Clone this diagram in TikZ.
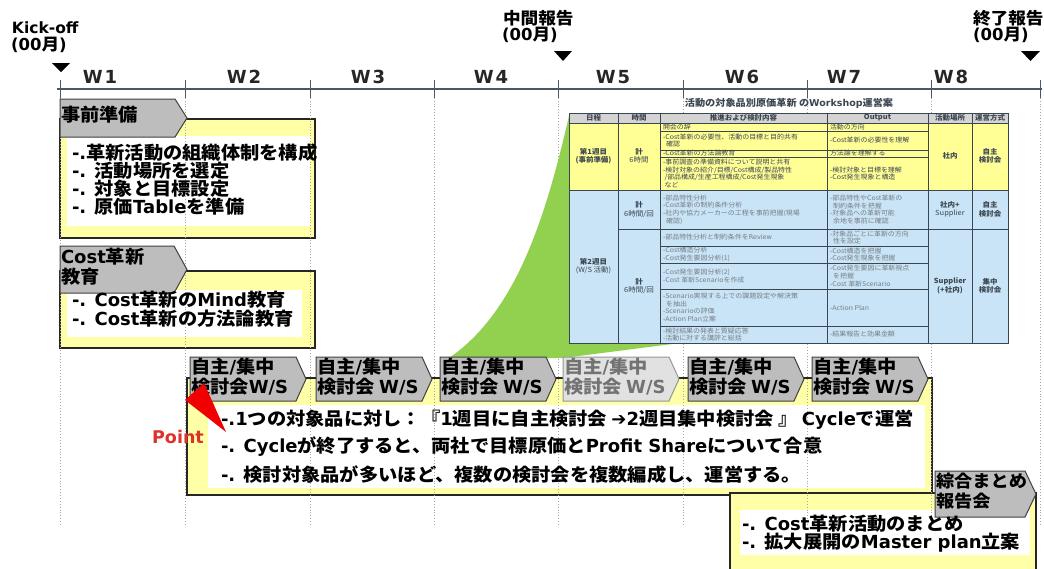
\documentclass[tikz,border=0pt]{standalone}
\usepackage{fontspec}
\setmainfont{Noto Sans CJK JP}[FakeStretch=1.07]
\newfontfamily\dv{DejaVu Sans}
\newcommand\dl[1]{{\dv #1}}
\usetikzlibrary{calc}
\definecolor{pgray}{HTML}{BDBDBD}
\definecolor{pline}{HTML}{404040}
\definecolor{ylw}{HTML}{FFFFA8}
\definecolor{boxline}{HTML}{262626}
\definecolor{vgray}{HTML}{A8A8A8}
\definecolor{tlcol}{HTML}{4A5866}
\definecolor{grn}{HTML}{92D050}
\definecolor{thead}{HTML}{D4D4D4}
\definecolor{tyel}{HTML}{FFFF96}
\definecolor{tblu}{HTML}{C8E4F6}
\definecolor{tgrid}{HTML}{3A4650}
\definecolor{tcol}{HTML}{3C4650}
\definecolor{ptred}{HTML}{F00000}
\definecolor{ptxt}{HTML}{E0302A}
\begin{document}
\begin{tikzpicture}[x=1pt,y=-1pt,every node/.style={inner sep=0pt,outer sep=0pt}]
\tikzset{
 pentst/.style={fill=pgray,draw=pline,line width=1pt,line join=miter},
 pentfade/.style={fill=pgray!45,draw=pline!55,line width=1pt,line join=miter},
 ybox/.style={fill=ylw,draw=boxline,line width=1.3pt},
 inwhite/.style={fill=white},
 vdot/.style={draw=vgray,dotted,line width=0.9pt},
 tline/.style={draw=tlcol,line width=1.1pt},
 msmark/.style={fill=black},
 big/.style={font=\fontsize{18}{17.7}\selectfont\bfseries,align=left,anchor=west,text=black},
 pttxt/.style={font=\fontsize{18}{18}\selectfont\bfseries,align=left,anchor=west,text=black},
 penttxt/.style={font=\fontsize{18}{20}\selectfont\bfseries,align=left,anchor=north west,text=black},
 lbl/.style={font=\dv\fontsize{15.5}{16}\selectfont\bfseries,align=left,anchor=west},
 jlbl/.style={font=\fontsize{16.5}{16}\selectfont\bfseries,align=left,anchor=west},
 wk/.style={font=\dv\fontsize{18}{18}\selectfont\bfseries,anchor=center,text=black!85},
 tgr/.style={draw=tgrid,line width=0.6pt},
 thd/.style={font=\fontsize{7}{8}\selectfont\bfseries,text=tcol,anchor=center,align=center},
 tc/.style={font=\fontsize{6.5}{7.6}\selectfont,text=tcol,anchor=west,align=left},
 tcb/.style={font=\fontsize{7}{8.5}\selectfont\bfseries,text=tcol,anchor=center,align=center},
 tcbl/.style={font=\fontsize{6.5}{7.6}\selectfont,text=tcol!70,anchor=west,align=left},
}
\useasboundingbox (0,0) rectangle (1044,568);
\fill[white] (0,0) rectangle (1044,568);

% ---------- yellow boxes ----------
\node[ybox,minimum width=255,minimum height=119,anchor=north west] (prepbox) at (60,119) {};
\fill[inwhite] (67,136) rectangle (310,226);
\node[ybox,minimum width=255,minimum height=77,anchor=north west] (costbox) at (60,271) {};
\fill[inwhite] (67,290) rectangle (302,337);
\node[ybox,minimum width=745,minimum height=117,anchor=north west] (pointbox) at (187,378) {};
\fill[inwhite] (208,405) rectangle (925,488);
\node[ybox,minimum width=306,minimum height=90,anchor=north west] (finalbox) at (730,493) {};
\fill[inwhite] (740,510) rectangle (1030,555);

% ---------- vertical dotted week lines ----------
\foreach \x in {60,185,310,434,558,683,807,931,1040} {
  \draw[vdot] (\x,89) -- (\x,526);
}

% ---------- timeline ----------
\draw[tline] (57,89) -- (1042,89);
\foreach \x in {60,185,310,434,558,683,807,931,1040} {
  \draw[tline,line width=0.9pt] (\x,80) -- (\x,98);
}
\node[wk] (w1) at (100,77) {W\hspace{2pt}1};
\node[wk] (w2) at (244,77) {W\hspace{2pt}2};
\node[wk] (w3) at (368,77) {W\hspace{2pt}3};
\node[wk] (w4) at (491,77) {W\hspace{2pt}4};
\node[wk] (w5) at (613,77) {W\hspace{2pt}5};
\node[wk] (w6) at (742,77) {W\hspace{2pt}6};
\node[wk] (w7) at (844,77) {W\hspace{2pt}7};
\node[wk] (w8) at (951,77) {W\hspace{2pt}8};

% milestones
\node[lbl] (kick) at (12,28) {Kick-off};
\node[jlbl] (kickm) at (11,45) {\dl{(00}月\dl{)}};
\fill[msmark] (52,63) -- (70,63) -- (61,72) -- cycle;
\node[jlbl] (midr) at (503,18) {中間報告};
\node[jlbl] (midm) at (502,35) {\dl{(00}月\dl{)}};
\fill[msmark] (554,51) -- (572,51) -- (563,61) -- cycle;
\node[jlbl] (endr) at (973,18) {終了報告};
\node[jlbl] (endm) at (973,35) {\dl{(00}月\dl{)}};
\fill[msmark] (1021,51) -- (1040,51) -- (1030.5,61) -- cycle;

% ---------- green callout ----------
\fill[grn] (569,116) .. controls (545,220) and (515,315) .. (446,360) -- (563,358) -- (680,343) -- (1008,343) -- (1008,116) -- cycle;

% ---------- table ----------
\node[font=\fontsize{9.5}{10}\selectfont\bfseries,text=tcol] (ttitle) at (789,103) {活動の対象品別原価革新 の\dl{Workshop}運営案};
\fill[thead] (569,113) rectangle (1008,123);
\fill[tyel] (569,123) rectangle (1008,190);
\fill[tblu] (569,190) rectangle (1008,343);
% grid
\draw[tgr,line width=1pt] (569,113) rectangle (1008,343);
\draw[tgr] (569,123) -- (1008,123);
\draw[tgr] (569,190) -- (1008,190);
\draw[tgr] (618,229) -- (1008,229);
\foreach \x in {618,660,827,928,972} { \draw[tgr] (\x,113) -- (\x,343); }
\foreach \y in {131,150,157} { \draw[tgr] (660,\y) -- (928,\y); }
\foreach \y in {246,263,289,326} { \draw[tgr] (660,\y) -- (928,\y); }
% header
\node[thd] (h1) at (593.5,118) {日程};
\node[thd] (h2) at (639,118) {時間};
\node[thd] (h3) at (743.5,118) {推進および検討内容};
\node[thd] (h4) at (877.5,118) {Output};
\node[thd] (h5) at (950,118) {活動場所};
\node[thd] (h6) at (990,118) {運営方式};
% yellow section
\node[tcb] (d1) at (593.5,156) {第1週目\\(事前準備)};
\node[tcb] (t1) at (639,156) {計\\\mdseries 6時間};
\node[tc] (p1) at (663,127) {開会の辞};
\node[tc] (p2) at (663,140.5) {\dl{-}Cost革新の必要性、活動の目標と目的共有\\\ \ 確認};
\node[tc] (p3) at (663,153.5) {\dl{-}Cost革新の方法論教育};
\node[tc] (p4) at (663,173.5) {\dl{-}事前調査の準備資料について説明と共有\\\dl{-}検討対象の紹介/目標/Cost構成/製品特性\\\ /部品構成/生産工程構成/Cost発生現象\\\ など};
\node[tc] (o1) at (830,127) {活動の方向};
\node[tc] (o2) at (830,140.5) {\dl{-}Cost革新の必要性を理解};
\node[tc] (o3) at (830,153.5) {方法論を理解する};
\node[tc] (o4) at (830,173.5) {\dl{-}検討対象と目標を理解\\\dl{-}Cost発生現象と構造};
\node[tcb] (l1) at (950,156) {社内};
\node[tcb] (m1) at (990,156) {自主\\検討会};
% blue section
\node[tcb] (d2) at (593.5,266) {第2週目\\\mdseries (W/S 活動)};
\node[tcb] (t2) at (639,209.5) {計\\\mdseries 6時間/回};
\node[tcbl] (p5) at (663,209.5) {\dl{-}部品特性分析\\\dl{-}Cost革新の制約条件分析\\\dl{-}社内や協力メーカーの工程を事前把握(現場\\\ \ 確認)};
\node[tcbl] (o5) at (830,209.5) {\dl{-}部品特性やCost革新の\\\ \ 制約条件を把握\\\dl{-}対象品への革新可能\\\ \ 余地を事前に確認};
\node[tcb] (l2) at (950,209.5) {社内+\\\mdseries Supplier};
\node[tcb] (m2) at (990,209.5) {自主\\検討会};
\node[tcb] (t3) at (639,286) {計\\\mdseries 6時間/回};
\node[tcbl] (p6) at (663,237.5) {\dl{-}部品特性分析と制約条件を\dl{Review}};
\node[tcbl] (p7) at (663,254.5) {\dl{-}Cost構造分析\\\dl{-}Cost発生要因分析(1)};
\node[tcbl] (p8) at (663,276) {\dl{-}Cost発生要因分析(2)\\\dl{-}Cost 革新Scenarioを作成};
\node[tcbl] (p9) at (663,307.5) {\dl{-}Scenario実現する上での課題設定や解決策\\\ \ を抽出\\\dl{-}Scenarioの評価\\\dl{-}Action Plan立案};
\node[tcbl] (p10) at (663,334.5) {\dl{-}検討結果の発表と質疑応答\\\dl{-}活動に対する講評と総括};
\node[tcbl] (o6) at (830,237.5) {\dl{-}対象品ごとに革新の方向\\\ \ 性を設定};
\node[tcbl] (o7) at (830,254.5) {\dl{-}Cost構造を把握\\\dl{-}Cost発生現象を把握};
\node[tcbl] (o8) at (830,276) {\dl{-}Cost発生要因に革新視点\\\ \ を把握\\\dl{-}Cost 革新Scenario};
\node[tcbl] (o9) at (830,307.5) {\dl{-}Action Plan};
\node[tcbl] (o10) at (830,334.5) {\dl{-}結果報告と効果金額};
\node[tcb] (l3) at (950,286) {Supplier\\(+社内)};
\node[tcb] (m3) at (990,286) {集中\\検討会};

% ---------- pentagon boxes ----------
\node[minimum width=127,minimum height=38,anchor=north west] (prep) at (60,99) {};
\draw[pentst] (prep.north west) -- ([xshift=-12pt]prep.north east) -- (prep.east) -- ([xshift=-12pt]prep.south east) -- (prep.south west) -- cycle;
\node[big] (prept) at (61,115) {事前準備};

\node[minimum width=127,minimum height=47,anchor=north west] (cost) at (60,246) {};
\draw[pentst] (cost.north west) -- ([xshift=-13pt]cost.north east) -- (cost.east) -- ([xshift=-13pt]cost.south east) -- (cost.south west) -- cycle;
\node[penttxt] (costt) at (61,248) {\dl{Cost}革新\\教育};

\foreach \n/\x in {1/190,2/316,3/440,4/563,5/688,6/812} {
  \node[minimum width=116,minimum height=44,anchor=north west] (ws\n) at (\x,357) {};
}
\foreach \n in {1,2,3,5,6} {
  \draw[pentst] (ws\n.north west) -- ([xshift=-10pt]ws\n.north east) -- (ws\n.east) -- ([xshift=-10pt]ws\n.south east) -- (ws\n.south west) -- cycle;
}
\draw[pentfade] (ws4.north west) -- ([xshift=-10pt]ws4.north east) -- (ws4.east) -- ([xshift=-10pt]ws4.south east) -- (ws4.south west) -- cycle;
\node[penttxt] (ws1t) at (191,358) {自主\dl{/}集中\\検討会\dl{W/S}};
\node[penttxt] (ws2t) at (317,358) {自主\dl{/}集中\\検討会 \dl{W/S}};
\node[penttxt] (ws3t) at (441,358) {自主\dl{/}集中\\検討会 \dl{W/S}};
\node[penttxt,text=black!55] (ws4t) at (564,358) {自主\dl{/}集中\\検討会 \dl{W/S}};
\node[penttxt] (ws5t) at (689,358) {自主\dl{/}集中\\検討会 \dl{W/S}};
\node[penttxt] (ws6t) at (813,358) {自主\dl{/}集中\\検討会 \dl{W/S}};

\node[minimum width=101,minimum height=46,anchor=north west] (sum) at (935,471) {};
\draw[pentst] (sum.north west) -- ([xshift=-11pt]sum.north east) -- (sum.east) -- ([xshift=-11pt]sum.south east) -- (sum.south west) -- cycle;
\node[penttxt,font=\fontsize{17}{20}\selectfont\bfseries] (sumt) at (936,473) {綜合まとめ\\報告会};

% ---------- box texts ----------
\node[big] (prepl) at (72,179.5) {\dl{-.}革新活動の組織体制を構成\\\dl{-. }活動場所を選定\\\dl{-. }対象と目標設定\\\dl{-. }原価\dl{Table}を準備};
\node[big,font=\fontsize{18}{18.5}\selectfont\bfseries] (costl) at (72,309) {\dl{-. Cost}革新の\dl{Mind}教育\\\dl{-. Cost}革新の方法論教育};
\node[pttxt] (pl1) at (221,420) {\dl{-.1}つの対象品に対し：『\dl{1}週目に自主検討会 \dl{➔2}週目集中検討会 』 \dl{Cycle}で運営};
\node[pttxt] (pl2) at (221,447) {\dl{-. Cycle}が終了すると、両社で目標原価と\dl{Profit Share}について合意};
\node[pttxt] (pl3) at (221,475) {\dl{-. }検討対象品が多いほど、複数の検討会を複数編成し、運営する。};
\node[big] (finl) at (742,534) {\dl{-. Cost}革新活動のまとめ\\\dl{-. }拡大展開の\dl{Master plan}立案};

% ---------- Point marker ----------
\fill[ptred] (185,400) -- (204,383) -- (226,432) -- cycle;
\node[font=\dv\fontsize{17.5}{18}\selectfont\bfseries,text=ptxt,anchor=center] (point) at (178,437) {Point};
\end{tikzpicture}
\end{document}
